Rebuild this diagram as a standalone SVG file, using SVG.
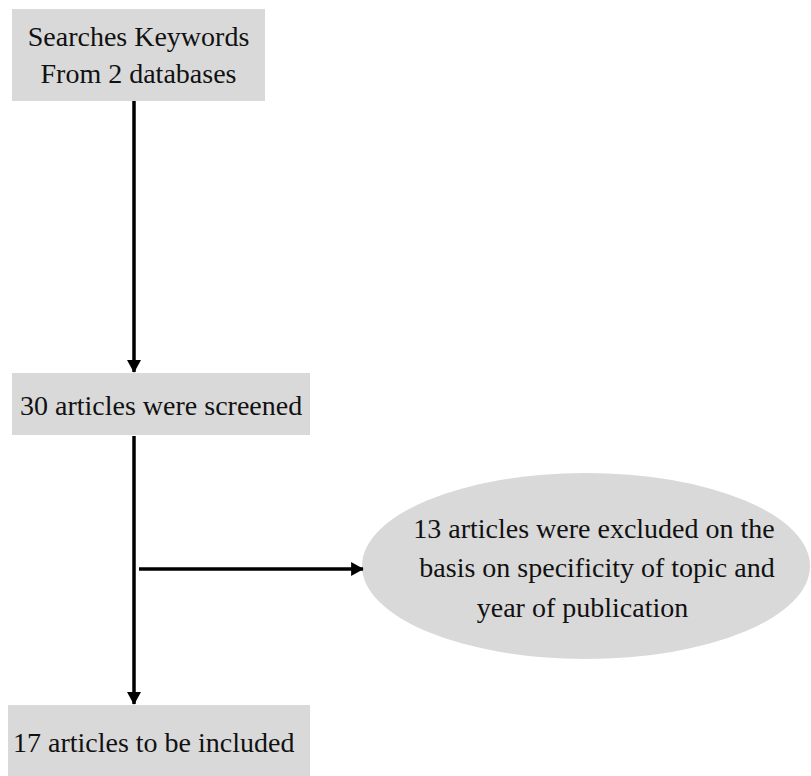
<svg xmlns="http://www.w3.org/2000/svg" width="811" height="776" viewBox="0 0 811 776">
<style>
.box{fill:#d9d9d9;stroke:none}
.t{font-family:'Liberation Serif','Times New Roman',serif;font-size:28px;fill:#111}
.ln{stroke:#000;stroke-width:3.5;fill:none}
</style>
<defs>
<marker id="ah" markerWidth="4" markerHeight="4" refX="3.4" refY="2" orient="auto" markerUnits="strokeWidth">
<path d="M0,0 L3.6,2 L0,4 Z" fill="#000"/>
</marker>
</defs>
<rect width="811" height="776" fill="#fff"/>
<g id="n1">
<rect class="box" x="12" y="9" width="253" height="92"/>
<text class="t" x="138.5" y="46" text-anchor="middle">Searches Keywords</text>
<text class="t" x="138.5" y="83" text-anchor="middle">From 2 databases</text>
</g>
<g id="n2">
<rect class="box" x="12" y="373" width="298" height="62"/>
<text class="t" x="20" y="415">30 articles were screened</text>
</g>
<g id="n3">
<ellipse class="box" cx="586" cy="566" rx="224" ry="93"/>
<text class="t" x="594" y="538" text-anchor="middle">13 articles were excluded on the</text>
<text class="t" x="597" y="577" text-anchor="middle">basis on specificity of topic and</text>
<text class="t" x="582.5" y="617" text-anchor="middle">year of publication</text>
</g>
<g id="n4">
<rect class="box" x="8" y="705" width="302" height="71"/>
<text class="t" x="13" y="752">17 articles to be included</text>
</g>
<g id="connectors">
<line class="ln" x1="134" y1="101" x2="134" y2="372" marker-end="url(#ah)"/>
<line class="ln" x1="134" y1="436" x2="134" y2="704" marker-end="url(#ah)"/>
<line class="ln" x1="139" y1="569" x2="363" y2="569" marker-end="url(#ah)"/>
</g>
</svg>
